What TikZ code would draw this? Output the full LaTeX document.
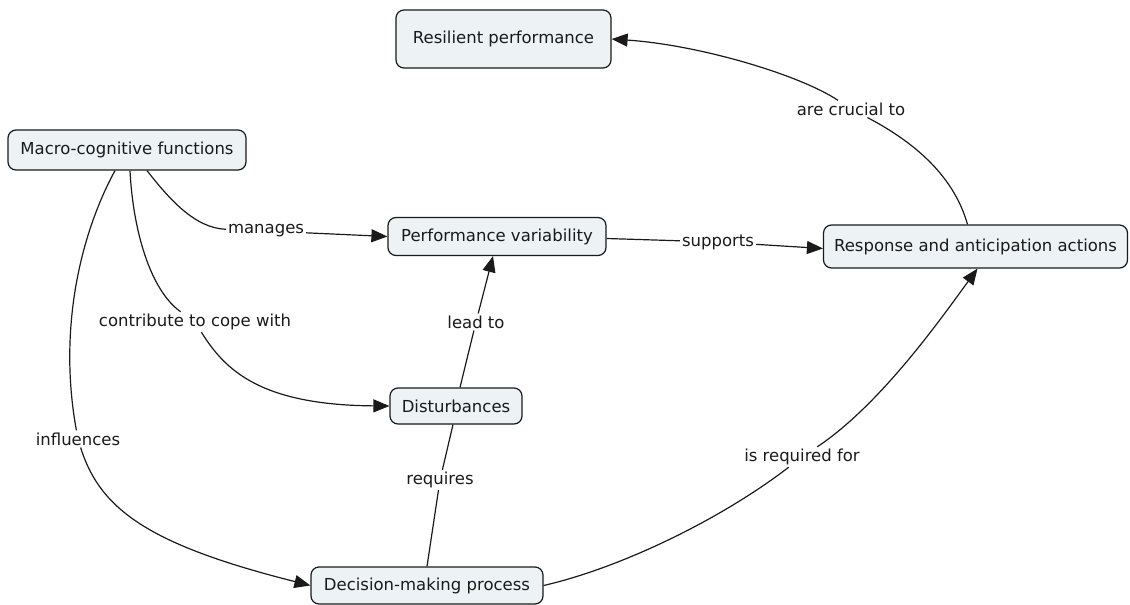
\documentclass[tikz,border=0pt]{standalone}
\usepackage{fontspec}
\setmainfont{DejaVu Sans}
\usetikzlibrary{arrows.meta}
\definecolor{boxfill}{HTML}{EDF2F5}
\definecolor{ink}{HTML}{1A1A1A}
\begin{document}
\begin{tikzpicture}[x=1pt,y=-1pt,
  concept/.style={draw=ink, line width=1.2pt, fill=boxfill, rounded corners=8pt,
    inner sep=0pt, font=\fontsize{16.5}{20}\selectfont, text=ink},
  linkword/.style={inner sep=2pt, font=\fontsize{16.5}{20}\selectfont, text=ink},
  link/.style={draw=ink, line width=1.2pt},
  arrowlink/.style={link, -{Triangle[length=16pt,width=13pt]}}]
\useasboundingbox (0,0) rectangle (1130,605);

% concepts
\node[concept, minimum width=215pt, minimum height=58pt] (rp)    at (503.5,39)   {Resilient performance};
\node[concept, minimum width=238pt, minimum height=40pt] (macro) at (127,150)    {Macro-cognitive functions};
\node[concept, minimum width=218pt, minimum height=38pt] (pv)    at (497,236.5)  {Performance variability};
\node[concept, minimum width=304pt, minimum height=43pt] (resp)  at (975.5,246.5){Response and anticipation actions};
\node[concept, minimum width=132pt, minimum height=36pt] (dist)  at (456,406)    {Disturbances};
\node[concept, minimum width=232pt, minimum height=37pt] (dec)   at (427,585.5)  {Decision-making process};

% linking phrases
\node[linkword] (lm) at (266,231) {manages};
\node[linkword] (lc) at (195,322) {contribute to cope with};
\node[linkword] (li) at (78,439)  {influences};
\node[linkword] (ls) at (718,242) {supports};
\node[linkword] (ll) at (476,322) {lead to};
\node[linkword] (lq) at (440,480) {requires};
\node[linkword] (lr) at (802,457) {is required for};
\node[linkword] (la) at (851,109) {are crucial to};

% macro-cognitive functions -> performance variability
\draw[link] ([xshift=20pt]macro.south) .. controls (170,200) and (195,228) .. (lm);
\draw[arrowlink] (lm) -- (pv.west);

% macro-cognitive functions -> disturbances
\draw[link] ([xshift=3pt]macro.south) .. controls (133,230) and (150,290) .. (lc);
\draw[arrowlink] (lc) .. controls (225,370) and (260,405) .. (dist.west);

% macro-cognitive functions -> decision-making process
\draw[link] ([xshift=-12pt]macro.south) .. controls (80,235) and (58,330) .. (li);
\draw[arrowlink] (li) .. controls (100,510) and (150,545) .. (dec.west);

% performance variability -> response and anticipation actions
\draw[link] ([yshift=-2pt]pv.east) -- (ls);
\draw[arrowlink] (ls) -- ([yshift=-2pt]resp.west);

% disturbances -> performance variability
\draw[link] ([xshift=4pt]dist.north) -- (ll);
\draw[arrowlink] (ll) -- ([xshift=-4pt]pv.south);

% decision-making process -- disturbances
\draw[link] (dec.north) -- (lq);
\draw[link] (lq) -- ([xshift=-3pt]dist.south);

% decision-making process -> response and anticipation actions
\draw[link] (dec.east) .. controls (620,568) and (720,520) .. (lr);
\draw[arrowlink] (lr) .. controls (880,405) and (940,320) .. ([xshift=2pt]resp.south);

% response and anticipation actions -> resilient performance
\draw[link] ([xshift=-8pt]resp.north) .. controls (955,180) and (920,145) .. (la);
\draw[arrowlink] (la) .. controls (800,75) and (700,45) .. (rp.east);
\end{tikzpicture}
\end{document}
